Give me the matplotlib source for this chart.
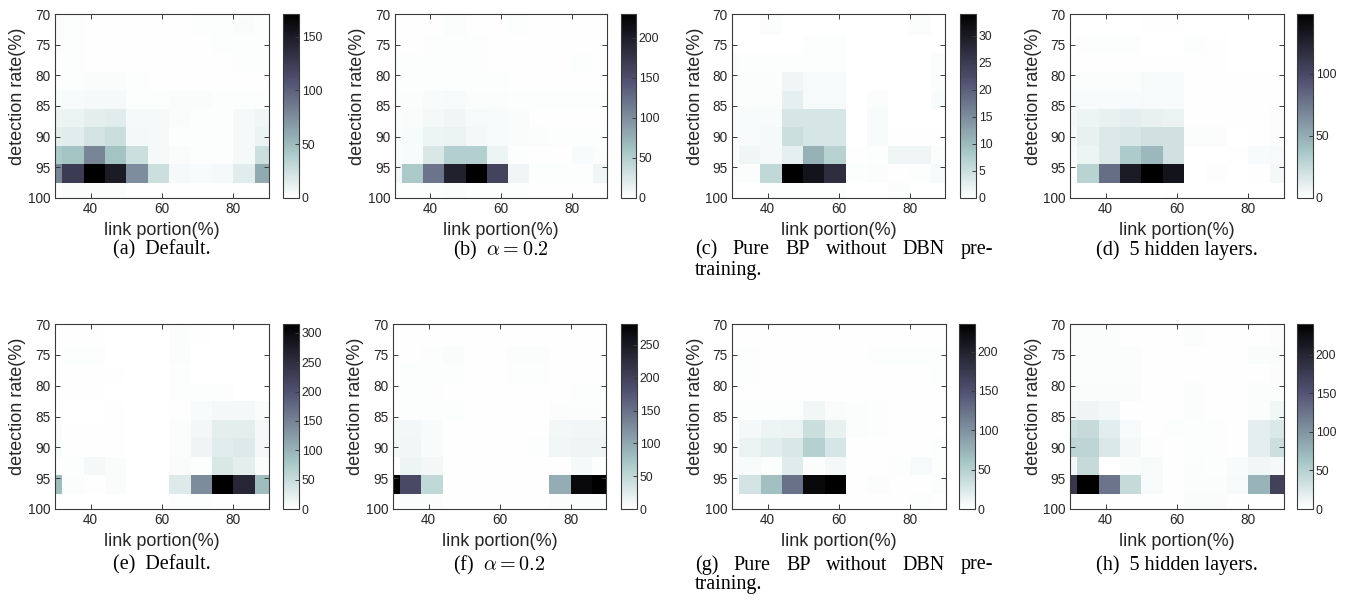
import numpy as np
import matplotlib
matplotlib.use("Agg")
import matplotlib.pyplot as plt

plt.rcParams['mathtext.fontset'] = 'cm'

# ---------------- data ----------------
link_portion = [29, 35, 41, 47, 53, 59, 65, 71, 77, 83, 89]          # cell centres (%)
detection_rate = [69, 72, 75, 78, 81, 84, 87, 90, 93, 96, 99]       # cell centres (%)
x_ticks = [40, 60, 80]
y_ticks = [70, 75, 80, 85, 90, 95, 100]

panel_a = [
    [2, 2, 1, 1, 1, 1, 1, 2, 2, 2, 2],
    [3, 2, 1, 1, 1, 1, 1, 2, 2, 3, 2],
    [3, 2, 1, 1, 1, 1, 1, 1, 2, 2, 2],
    [2, 2, 1, 1, 1, 1, 1, 1, 1, 2, 2],
    [2, 2, 3, 3, 2, 1, 1, 1, 1, 1, 1],
    [4, 4, 5, 5, 2, 2, 3, 3, 2, 2, 2],
    [10, 10, 14, 15, 5, 5, 3, 2, 2, 5, 8],
    [14, 15, 22, 26, 6, 5, 2, 2, 2, 5, 10],
    [40, 45, 80, 45, 25, 5, 3, 2, 2, 5, 25],
    [80, 125, 171, 150, 75, 25, 5, 4, 5, 15, 60],
    [2, 3, 3, 3, 1, 1, 1, 1, 1, 1, 1],
]
panel_b = [
    [1, 1, 1, 3, 1, 1, 2, 1, 1, 1, 1],
    [1, 1, 1, 3, 1, 1, 2, 1, 1, 1, 1],
    [1, 1, 2, 2, 2, 1, 1, 1, 1, 1, 1],
    [2, 2, 2, 2, 2, 1, 1, 1, 1, 2, 1],
    [2, 2, 2, 2, 2, 2, 1, 1, 1, 1, 1],
    [3, 3, 5, 6, 3, 3, 2, 2, 2, 2, 2],
    [3, 4, 8, 10, 6, 5, 4, 1, 1, 1, 1],
    [4, 5, 12, 14, 8, 6, 4, 3, 2, 2, 2],
    [4, 5, 25, 50, 50, 12, 2, 1, 1, 5, 3],
    [8, 55, 120, 195, 230, 160, 10, 2, 2, 2, 10],
    [2, 2, 3, 4, 2, 2, 2, 1, 1, 1, 1],
]
panel_c = [
    [0.1, 0.1, 0.4, 0.1, 0.1, 0.1, 0.1, 0.1, 0.1, 0.4, 0.1],
    [0.1, 0.1, 0.4, 0.1, 0.1, 0.1, 0.1, 0.1, 0.1, 0.4, 0.1],
    [0.1, 0.1, 0.1, 0.1, 0.3, 0.3, 0.1, 0.1, 0.1, 0.1, 0.1],
    [0.4, 0.3, 0.3, 0.3, 0.3, 0.3, 0.1, 0.1, 0.1, 0.1, 0.5],
    [0.5, 0.5, 0.5, 1.5, 0.8, 0.8, 0.1, 0.1, 0.1, 0.1, 0.5],
    [0.5, 0.5, 0.5, 2.5, 0.8, 0.8, 0.1, 0.5, 0.1, 0.1, 0.7],
    [0.5, 0.7, 0.7, 4, 4, 4, 0.1, 0.7, 0.1, 0.1, 0.1],
    [0.5, 0.7, 1, 5, 4, 4, 0, 0.7, 0.2, 0.2, 0.2],
    [0.5, 1.5, 1, 2.5, 11, 7, 0.2, 0.3, 1.5, 1.5, 0.5],
    [0.5, 0.5, 6, 34, 31, 27, 0.3, 0.5, 0.2, 0.3, 0.8],
    [0.1, 0.1, 0.3, 0.3, 0.3, 0.3, 0.1, 0.1, 0.5, 0.1, 0.1],
]
panel_d = [
    [0.5, 0.5, 0.5, 0.5, 1, 1, 0.5, 0.5, 0.5, 0.5, 0.5],
    [0.5, 0.5, 0.5, 0.5, 1, 1, 0.5, 0.5, 0.5, 0.5, 0.5],
    [0.5, 1.5, 1.5, 1.5, 0.5, 0.5, 1.5, 1, 0.5, 0.5, 0.5],
    [1, 1, 1, 1, 1, 1, 1, 1, 0.5, 0.5, 0.5],
    [2, 2, 2, 2, 4, 4, 1, 1, 1, 1, 1],
    [3, 3, 3, 3, 4, 4, 1, 1, 1, 1, 1],
    [5, 8, 10, 11, 10, 9, 1, 1, 1, 1, 2],
    [4, 10, 15, 17, 20, 20, 2, 2, 0.5, 1, 2],
    [3, 8, 15, 35, 45, 20, 0.5, 0.5, 1, 3, 4],
    [1, 30, 80, 130, 148, 135, 0.5, 1.5, 0.5, 1, 5],
    [0.5, 0.5, 0.5, 0.5, 0.5, 1, 0.5, 0.5, 0.5, 0.5, 0.5],
]
panel_e = [
    [1, 2, 2, 1, 1, 1, 4, 2, 1, 1, 1],
    [1, 2, 2, 1, 1, 1, 4, 2, 1, 1, 1],
    [1, 3, 3, 1, 1, 1, 4, 1, 1, 1, 1],
    [2, 2, 2, 2, 1, 1, 3, 1, 1, 1, 1],
    [2, 2, 2, 1, 1, 1, 3, 3, 3, 1, 1],
    [2, 1, 1, 2, 1, 1, 2, 7, 10, 10, 5],
    [6, 2, 2, 2, 1, 1, 4, 12, 25, 25, 10],
    [7, 2, 2, 2, 1, 1, 4, 15, 28, 30, 10],
    [3, 3, 10, 5, 1, 1, 5, 3, 35, 25, 5],
    [90, 4, 2, 6, 1, 1, 30, 140, 315, 260, 90],
    [1, 1, 1, 1, 1, 1, 3, 3, 1, 1, 1],
]
panel_f = [
    [2, 2, 2, 2, 2, 2, 2, 2, 2, 2, 2],
    [2, 2, 2, 2, 2, 2, 2, 2, 2, 2, 2],
    [2, 2, 3, 5, 2, 2, 4, 4, 2, 2, 2],
    [2, 3, 3, 3, 2, 2, 3, 3, 2, 2, 2],
    [2, 3, 3, 2, 2, 2, 2, 2, 2, 3, 3],
    [3, 3, 3, 3, 2, 2, 2, 2, 4, 4, 4],
    [10, 10, 6, 2, 2, 2, 2, 2, 10, 12, 12],
    [10, 12, 6, 2, 2, 2, 2, 3, 12, 14, 14],
    [2, 15, 10, 2, 2, 2, 2, 2, 2, 8, 3],
    [282, 190, 50, 2, 2, 2, 2, 2, 95, 270, 282],
    [4, 4, 4, 2, 2, 2, 2, 2, 4, 4, 4],
]
panel_g = [
    [1, 1, 1, 1, 1, 1, 1, 1, 1, 1, 1],
    [1, 1, 1, 1, 1, 1, 1, 1, 1, 1, 1],
    [2, 2, 1, 1, 1, 1, 1, 2, 2, 2, 2],
    [2, 2, 1, 1, 1, 1, 1, 1, 1, 1, 2],
    [1, 1, 1, 1, 1, 1, 1, 1, 1, 1, 1],
    [2, 2, 2, 2, 10, 4, 3, 2, 1, 1, 1],
    [2, 8, 12, 14, 35, 16, 3, 2, 1, 1, 1],
    [3, 14, 20, 25, 50, 28, 1, 1, 1, 1, 2],
    [3, 5, 2, 22, 3, 8, 1, 1, 2, 6, 2],
    [2, 30, 65, 125, 225, 235, 1, 3, 1, 1, 3],
    [1, 1, 1, 1, 1, 1, 1, 1, 1, 2, 1],
]
panel_h = [
    [3, 3, 3, 1, 1, 1, 3, 1, 1, 1, 3],
    [3, 3, 3, 1, 1, 1, 3, 1, 1, 1, 3],
    [3, 3, 3, 3, 1, 1, 1, 1, 1, 4, 4],
    [3, 3, 3, 3, 1, 1, 1, 1, 1, 1, 3],
    [4, 4, 4, 4, 1, 1, 3, 1, 1, 3, 3],
    [10, 12, 8, 1, 1, 1, 3, 1, 1, 3, 10],
    [35, 40, 20, 6, 1, 2, 2, 2, 1, 18, 25],
    [45, 45, 25, 8, 2, 1, 2, 2, 1, 18, 35],
    [8, 40, 0.5, 4, 6, 1, 3, 2, 5, 10, 7],
    [180, 240, 125, 40, 6, 1, 3, 3, 6, 75, 170],
    [1, 1, 1, 1, 1, 1, 4, 4, 1, 1, 1],
]

panels = [panel_a, panel_b, panel_c, panel_d, panel_e, panel_f, panel_g, panel_h]
cbar_steps = [50, 50, 5, 50, 50, 50, 50, 50]
captions = ["(a)  Default.", r"(b)  $\alpha = 0.2$",
            ["(c)", "Pure", "BP", "without", "DBN", "pre-"],
            "(d)  5 hidden layers.",
            "(e)  Default.", r"(f)  $\alpha = 0.2$",
            ["(g)", "Pure", "BP", "without", "DBN", "pre-"],
            "(h)  5 hidden layers."]

# ---------------- layout (pixels) ----------------
W, H = 1347, 608
fig = plt.figure(figsize=(W / 100, H / 100), dpi=100)

axes_x = [(55, 269), (395, 607), (732, 945), (1070, 1284),
          (55, 269), (393, 606), (732, 946), (1070, 1284)]
cbar_x = [(283, 299), (621, 636), (960, 976), (1297, 1313),
          (283, 299), (621, 637), (959, 975), (1297, 1313)]
rows_y = [(14, 198), (324, 509)]
xlabel_y = [231, 542]
cap_y = [250, 565]
cap2_y = [270, 585]
cap_size = 14.5


def box(l, t, r, b):
    return [l / W, 1 - b / H, (r - l) / W, (b - t) / H]


sans = "Liberation Sans"
serif = "Liberation Serif"
edge_col = "#3a3a3a"
txt_col = "#262626"

xc = np.array(link_portion, dtype=float)
yc = np.array(detection_rate, dtype=float)
x_edges = np.concatenate([xc - 3, [xc[-1] + 3]])
y_edges = np.concatenate([yc - 1.5, [yc[-1] + 1.5]])

for i, data in enumerate(panels):
    Z = np.array(data, dtype=float)
    row = i // 4
    t, b = rows_y[row]
    l, r = axes_x[i]
    ax = fig.add_axes(box(l, t, r, b))
    mesh = ax.pcolormesh(x_edges, y_edges, Z, cmap="bone_r", vmin=0, vmax=Z.max(),
                         shading="flat")
    ax.set_xlim(30, 90)
    ax.set_ylim(100, 70)
    ax.set_xticks(x_ticks)
    ax.set_yticks(y_ticks)
    ax.tick_params(direction="in", length=3.5, width=0.7, top=True, right=True,
                   colors=edge_col, labelcolor=txt_col, labelsize=9.8, pad=3)
    for lab in ax.get_xticklabels() + ax.get_yticklabels():
        lab.set_family(sans)
    for s in ax.spines.values():
        s.set_color(edge_col)
        s.set_linewidth(0.8)

    # axis labels
    fig.text((l + r) / 2 / W, 1 - xlabel_y[row] / H, "link portion(%)",
             family=sans, fontsize=13, color=txt_col, ha="center", va="center")
    fig.text((l - 37) / W, 1 - (t + 82) / H, "detection rate(%)",
             family=sans, fontsize=13, color=txt_col, ha="center", va="center",
             rotation=90)

    # colorbar
    cl, cr = cbar_x[i]
    cax = fig.add_axes(box(cl, t, cr, b))
    cb = fig.colorbar(mesh, cax=cax)
    step = cbar_steps[i]
    cb.set_ticks(np.arange(0, Z.max() + 1e-9, step))
    cb.ax.tick_params(direction="in", length=3, width=0.7, colors=edge_col,
                      labelcolor=txt_col, labelsize=8.8, pad=2)
    for lab in cb.ax.get_yticklabels():
        lab.set_family(sans)
    cb.outline.set_edgecolor(edge_col)
    cb.outline.set_linewidth(0.8)

    # caption
    cap = captions[i]
    if isinstance(cap, str):
        fig.text((l + r) / 2 / W, 1 - cap_y[row] / H, cap, family=serif,
                 fontsize=cap_size, color="black", ha="center", va="center")
    else:
        x0, x1 = 695, 993
        fig.canvas.draw()
        renderer = fig.canvas.get_renderer()
        objs = []
        widths = []
        for w in cap:
            o = fig.text(0, 1 - cap_y[row] / H, w, family=serif, fontsize=cap_size,
                         color="black", ha="left", va="center")
            objs.append(o)
            widths.append(o.get_window_extent(renderer).width)
        gap = (x1 - x0 - sum(widths)) / (len(cap) - 1)
        pos = x0
        for o, wd in zip(objs, widths):
            o.set_x(pos / W)
            pos += wd + gap
        fig.text(x0 / W, 1 - cap2_y[row] / H, "training.", family=serif,
                 fontsize=cap_size, color="black", ha="left", va="center")

fig.savefig("out.png", dpi=100)
